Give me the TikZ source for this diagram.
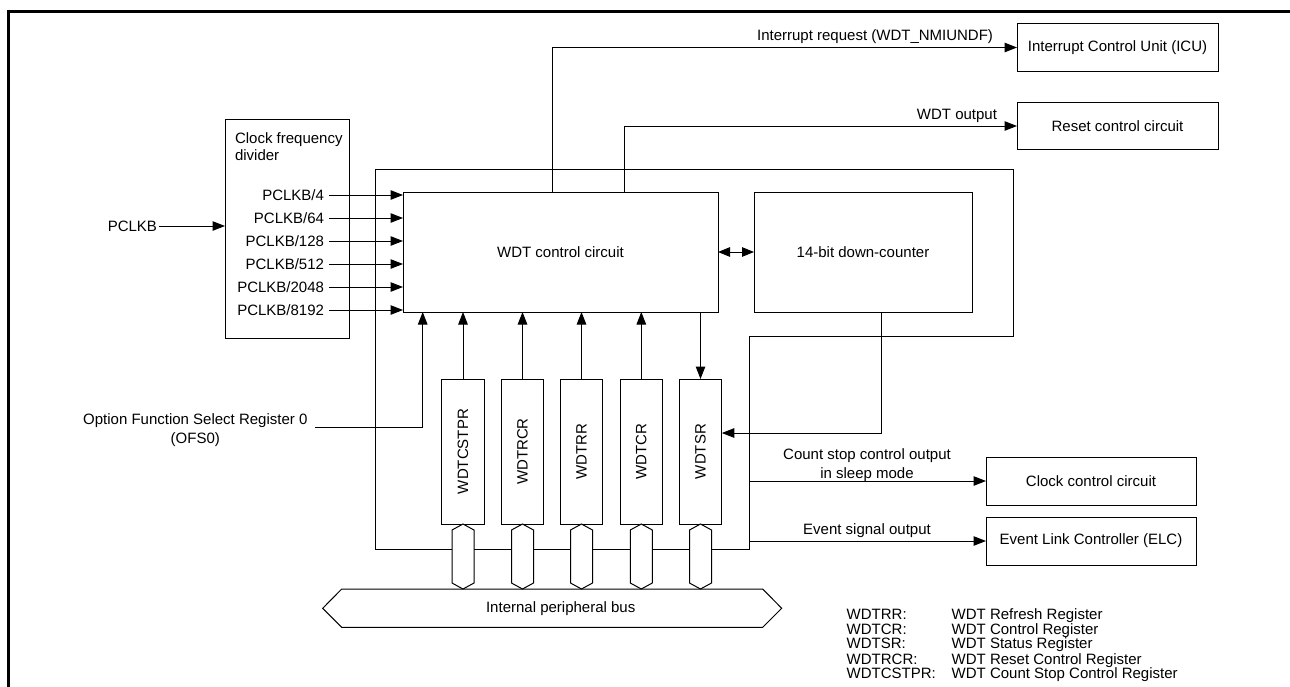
\documentclass[tikz,border=0pt]{standalone}
\usepackage{fontspec}
\setmainfont{Liberation Sans}
\usepackage{graphicx}
\usetikzlibrary{arrows.meta}
\tikzset{
  ln/.style={line width=1pt},
  arr/.style={ln,-{Triangle[length=12.5pt,width=9.5pt]}},
  darr/.style={ln,{Triangle[length=12pt,width=9.5pt]}-{Triangle[length=12pt,width=9.5pt]}},
  blk/.style={draw,ln,fill=white,inner sep=0pt,outer sep=0pt},
  reg/.style={blk,minimum width=42.6pt,minimum height=145pt},
  lbl/.style={inner sep=0pt,outer sep=0pt},
  capt/.style={lbl,text height=10.7pt,text depth=0pt},
}
\begin{document}
\begin{tikzpicture}[x=1pt,y=-1pt,font=\fontsize{15}{18}\selectfont]
\useasboundingbox (0,0) rectangle (1290,686);
% frame
\draw[line width=2.8pt] (8.7,690) -- (8.7,11.3) -- (1295,11.3);
% outer WDT block
\draw[ln] (375,169) -- (1013,169) -- (1013,336) -- (749,336) -- (749,549) -- (375,549) -- cycle;
% clock divider
\node[blk,minimum width=124pt,minimum height=219pt] (div) at (287,228.5) {};
\node[lbl,anchor=base west] (cfd1) at (235,143.5) {Clock frequency};
\node[lbl,anchor=base west] (cfd2) at (235,160.5) {divider};
% main blocks
\node[blk,minimum width=315pt,minimum height=120pt] (ctrl) at (560.5,252) {WDT control circuit};
\node[blk,minimum width=218pt,minimum height=120pt] (cnt) at (863,252) {14-bit down-counter};
\draw[darr] (ctrl.east) -- (cnt.west);
% external blocks
\node[blk,minimum width=201pt,minimum height=48pt] (icu) at (1117.5,47.5) {Interrupt Control Unit (ICU)};
\node[blk,minimum width=201pt,minimum height=47pt] (rst) at (1117.5,126) {Reset control circuit};
\node[blk,minimum width=210pt,minimum height=48pt] (ccc) at (1091,481) {Clock control circuit};
\node[blk,minimum width=210pt,minimum height=48pt] (elc) at (1091,541) {Event Link Controller (ELC)};
% PCLKB input
\node[capt,anchor=east] (pclkb) at (157,226) {PCLKB};
\draw[arr] ([xshift=2pt]pclkb.east) -- (pclkb.east -| div.west);
% divided clocks
\foreach \t/\y/\n in {4/195/p1,64/218/p2,128/241/p3,512/264/p4,2048/287/p5,8192/310/p6}{
  \node[capt,anchor=east] (\n) at (324,\y) {PCLKB/\t};
  \draw[arr] ([xshift=5pt]\n.east) -- (\n.east -| ctrl.west);
}
% outputs on top
\draw[arr] ([xshift=-8.5pt]ctrl.north) |- (icu.west);
\node[lbl,anchor=base east] (irqlbl) at (993,40) {Interrupt request (WDT\_NMIUNDF)};
\draw[arr] ([xshift=63.5pt]ctrl.north) |- (rst.west);
\node[lbl,anchor=base east] (wdtolbl) at (997,119) {WDT output};
% registers
\foreach \n/\x/\t in {r1/463/WDTCSTPR,r2/522.5/WDTRCR,r3/581.5/WDTRR,r4/641.3/WDTCR,r5/700.5/WDTSR}{
  \node[reg] (\n) at (\x,451.5) {\rotatebox{90}{\t}};
  \draw[ln,fill=white] (\n.south) -- ++(11,6) -- ++(0,53) -- ++(-11,6) -- ++(-11,-6) -- ++(0,-53) -- cycle;
}
\foreach \n in {r1,r2,r3,r4}{
  \draw[arr] (\n.north) -- (\n.north |- ctrl.south);
}
\draw[arr] (r5.north |- ctrl.south) -- (r5.north);
\draw[arr] ([xshift=18pt]cnt.south) |- ([yshift=18.5pt]r5.east);
% OFS0
\node[lbl,anchor=base] (ofs1) at (195.3,424.4) {Option Function Select Register 0};
\node[lbl,anchor=base] (ofs2) at (195.3,443) {(OFS0)};
\coordinate (ofsin) at (315,427);
\draw[arr] (ofsin) -| ([xshift=-137.8pt]ctrl.south);
% lower outputs
\coordinate (csx) at (749,481);
\draw[arr] (csx) -- (ccc.west);
\node[lbl,anchor=base] (cs1) at (867,459.4) {Count stop control output};
\node[lbl,anchor=base] (cs2) at (867,478.4) {in sleep mode};
\coordinate (evx) at (749,541);
\draw[arr] (evx) -- (elc.west);
\node[lbl,anchor=base] (evlbl) at (867,534) {Event signal output};
% bus
\draw[ln] (322.7,608.3) -- (341.7,589) -- (762.7,589) -- (781.7,608.3) -- (762.7,627.3) -- (341.7,627.3) -- cycle;
\node[lbl] (bus) at (560.7,608.3) {Internal peripheral bus};
% legend
\foreach \a/\b/\y [count=\i] in {WDTRR:/WDT Refresh Register/619.7,WDTCR:/WDT Control Register/634.4,WDTSR:/WDT Status Register/648.9,WDTRCR:/WDT Reset Control Register/664.4,WDTCSTPR:/WDT Count Stop Control Register/678.7}{
  \node[lbl,anchor=base west] (la\i) at (846.7,\y) {\a};
  \node[lbl,anchor=base west] (lb\i) at (951.7,\y) {\b};
}
\end{tikzpicture}
\end{document}
